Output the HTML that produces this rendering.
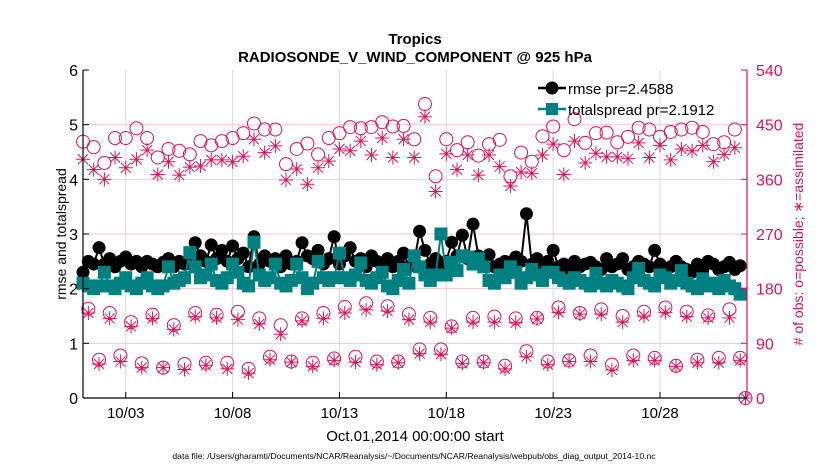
<!DOCTYPE html>
<html><head><meta charset="utf-8"><style>
body{margin:0;background:#fff;}
svg text{font-family:"Liberation Sans",Arial,sans-serif;}
</style></head><body>
<svg id="chart" width="830" height="470" xmlns="http://www.w3.org/2000/svg">
<g id="grid"></g>
<g id="series"></g>
<g id="axes"></g>
<text x="415" y="44" text-anchor="middle" font-size="15" font-weight="bold">Tropics</text>
<text x="415" y="62" text-anchor="middle" font-size="15" font-weight="bold">RADIOSONDE_V_WIND_COMPONENT @ 925 hPa</text>
<text x="415" y="441" text-anchor="middle" font-size="15">Oct.01,2014 00:00:00 start</text>
<text x="414" y="459" text-anchor="middle" font-size="8.6">data file: /Users/gharamti/Documents/NCAR/Reanalysis/~/Documents/NCAR/Reanalysis/webpub/obs_diag_output_2014-10.nc</text>
<text transform="translate(66,234) rotate(-90)" text-anchor="middle" font-size="14">rmse and totalspread</text>
<text transform="translate(803,234) rotate(-90)" text-anchor="middle" font-size="14" fill="#d6145a"># of obs: o=possible; ∗=assimilated</text>
<g>
<line x1="538" y1="88" x2="566" y2="88" stroke="#000" stroke-width="2.5"/>
<circle cx="552" cy="88" r="6.5" fill="#000"/>
<text x="568" y="94" font-size="15">rmse pr=2.4588</text>
<line x1="538" y1="109" x2="566" y2="109" stroke="#008080" stroke-width="2.5"/>
<rect x="546" y="103" width="12" height="12" fill="#008080"/>
<text x="568" y="115" font-size="15">totalspread pr=2.1912</text>
</g>
</svg>
<script>
const xTickLabels = ["10/03","10/08","10/13","10/18","10/23","10/28"];
const xTickDays = [2,7,12,17,22,27];
const leftTicks = [0,1,2,3,4,5,6];
const rightTicks = [0,90,180,270,360,450,540];
const rmse = [2.30,2.50,2.45,2.75, 2.45,2.55,2.40,2.50, 2.58,2.45,2.50,2.40, 2.50,2.45,2.40,2.48, 2.55,2.40,2.50,2.45, 2.45,2.84,2.60,2.50, 2.80,2.55,2.70,2.50, 2.78,2.55,2.65,2.40, 2.95,2.45,2.60,2.50, 2.55,2.40,2.60,2.45, 2.50,2.84,2.60,2.55, 2.70,2.45,2.55,2.95, 2.45,2.60,2.75,2.50, 2.55,2.40,2.60,2.50, 2.45,2.55,2.40,2.50, 2.65,2.40,2.50,3.05, 2.70,2.45,2.55,2.40, 2.50,2.85,2.60,2.98, 2.55,3.18,2.60,2.45, 2.62,2.40,2.45,2.50, 2.45,2.58,2.50,3.37, 2.45,2.55,2.40,2.50, 2.70,2.40,2.45,2.35, 2.50,2.40,2.45,2.48, 2.40,2.35,2.55,2.40, 2.45,2.55,2.35,2.40, 2.50,2.45,2.40,2.70, 2.45,2.35,2.40,2.50, 2.40,2.35,2.30,2.45, 2.35,2.50,2.45,2.35, 2.40,2.48,2.35,2.42];
const totalspread = [2.10,2.05,2.00,2.05, 2.30,2.05,2.00,2.10, 2.20,2.05,2.00,2.10, 2.20,2.05,2.00,2.05, 2.40,2.10,2.15,2.20, 2.66,2.40,2.20,2.25, 2.45,2.15,2.10,2.20, 2.45,2.30,2.10,2.05, 2.85,2.25,2.15,2.20, 2.45,2.10,2.05,2.15, 2.45,2.20,2.00,2.10, 2.50,2.20,2.15,2.20, 2.65,2.20,2.15,2.25, 2.47,2.15,2.10,2.20, 2.30,2.05,2.00,2.15, 2.35,2.10,2.60,2.40, 2.25,2.15,2.25,3.00, 2.25,2.48,2.33,2.60, 2.58,2.45,2.55,2.40, 2.15,2.10,2.25,2.20, 2.40,2.30,2.10,2.20, 2.35,2.25,2.15,2.30, 2.30,2.20,2.15,2.10, 2.20,2.15,2.10,2.05, 2.28,2.10,2.05,2.15, 2.10,2.05,2.00,2.20, 2.37,2.15,2.10,2.05, 2.25,2.20,2.10,2.15, 2.33,2.10,2.05,2.00, 2.18,2.05,2.10,2.00, 2.15,2.05,2.00,1.90];
const possible00z12z = [422,413,387,428,428,444,428,396,410,407,401,423,416,423,428,436,452,442,442,385,410,419,401,428,436,446,444,446,454,447,448,426,484,365,426,408,421,399,418,425,365,404,389,431,447,408,459,420,436,437,421,430,445,442,430,438,442,445,438,418,421,442,0];
const assim00z12z = [393,376,360,396,379,393,408,368,389,367,380,382,392,392,389,398,426,404,415,359,377,352,379,390,410,407,423,400,428,396,426,396,463,340,402,376,400,367,400,381,349,372,370,400,418,368,423,387,403,397,397,394,420,396,416,392,410,407,416,389,401,412,0];
const possible06z = [147,140,125,137,120,140,137,142,131,120,131,140,150,156,151,138,132,118,132,134,131,132,149,140,146,135,142,149,142,136,146];
const assim06z = [140,131,118,131,113,134,132,129,122,105,127,131,140,145,143,129,125,115,125,125,124,130,141,138,138,125,135,141,134,132,132];
const possible18z = [63,70,57,50,56,58,58,48,68,60,58,65,68,60,60,80,80,60,60,53,77,60,62,70,55,70,66,53,63,66,66];
const assim18z = [56,60,50,50,47,54,48,41,63,59,52,62,59,55,58,73,72,57,58,48,68,55,60,60,46,62,62,52,58,58,62];

const X0=83, X1=747, Y0=398, Y1=70, DMAX=31.07;
const PINK="#d6145a", TEAL="#008080";
const xs = d => X0 + d/DMAX*(X1-X0);
const yl = v => Y0 - v/6*(Y0-Y1);
const yr = c => Y0 - c/540*(Y0-Y1);
const NS="http://www.w3.org/2000/svg";
function mk(parent, tag, attrs){const e=document.createElementNS(NS,tag);for(const k in attrs)e.setAttribute(k,attrs[k]);parent.appendChild(e);return e;}
const grid=document.getElementById('grid'), ser=document.getElementById('series'), ax=document.getElementById('axes');

xTickDays.forEach((d,i)=>{
  const l=mk(grid,'line',{x1:xs(d),x2:xs(d),y1:Y1,y2:Y0,stroke:'#d9d9d9','stroke-width':1});
  
  
  mk(ax,'line',{x1:xs(d),x2:xs(d),y1:Y0,y2:Y0-6,stroke:'#000'});
  const t=mk(ax,'text',{x:xs(d),y:Y0+20,'text-anchor':'middle','font-size':15});
  t.textContent=xTickLabels[i];
  
  
});
rightTicks.forEach(c=>{
  if(c>0&&c<540){const l=mk(grid,'line',{x1:X0,x2:X1,y1:yr(c),y2:yr(c),stroke:'#f7c6d6','stroke-width':1});
  
  }
  mk(ax,'line',{x1:X1,x2:X1-6,y1:yr(c),y2:yr(c),stroke:PINK});
  const t=mk(ax,'text',{x:X1+9,y:yr(c)+6,'font-size':16,fill:PINK});
  t.textContent=c;
  
  
});
leftTicks.forEach(v=>{
  mk(ax,'line',{x1:X0,x2:X0+6,y1:yl(v),y2:yl(v),stroke:'#000'});
  const t=mk(ax,'text',{x:X0-5,y:yl(v)+6,'text-anchor':'end','font-size':16});
  t.textContent=v;
  
  
});
mk(ax,'line',{x1:X0,x2:X0,y1:Y1,y2:Y0,stroke:'#000','stroke-width':1.2});
mk(ax,'line',{x1:X0,x2:X1,y1:Y0,y2:Y0,stroke:'#000','stroke-width':1.2});
mk(ax,'line',{x1:X1,x2:X1,y1:Y1,y2:Y0,stroke:PINK,'stroke-width':1.2});

function circ(d,c,name){const e=mk(ser,'circle',{cx:xs(d),cy:yr(c),r:6.5,fill:'none',stroke:PINK,'stroke-width':1});
  
  }
function star(d,c,name){const x=xs(d),y=yr(c),s=7,q=5;
  const g=mk(ser,'path',{d:`M${x-s},${y}H${x+s}M${x},${y-s}V${y+s}M${x-q},${y-q}L${x+q},${y+q}M${x-q},${y+q}L${x+q},${y-q}`,stroke:PINK,'stroke-width':1,fill:'none'});
  
  }
possible00z12z.forEach((c,i)=>circ(i*0.5,c,'possible-obs-point'));
assim00z12z.forEach((c,i)=>star(i*0.5,c,'assimilated-obs-point'));
possible06z.forEach((c,i)=>circ(i+0.25,c,'possible-obs-point'));
assim06z.forEach((c,i)=>star(i+0.25,c,'assimilated-obs-point'));
possible18z.forEach((c,i)=>circ(i+0.75,c,'possible-obs-point'));
assim18z.forEach((c,i)=>star(i+0.75,c,'assimilated-obs-point'));

const rl=mk(ser,'polyline',{points:rmse.map((v,i)=>xs(i*0.25)+','+yl(v)).join(' '),fill:'none',stroke:'#000','stroke-width':2});


rmse.forEach((v,i)=>{const e=mk(ser,'circle',{cx:xs(i*0.25),cy:yl(v),r:6.5,fill:'#000'});
  
  });
const tl=mk(ser,'polyline',{points:totalspread.map((v,i)=>xs(i*0.25)+','+yl(v)).join(' '),fill:'none',stroke:TEAL,'stroke-width':2});


totalspread.forEach((v,i)=>{const e=mk(ser,'rect',{x:xs(i*0.25)-6.5,y:yl(v)-6.5,width:13,height:13,fill:TEAL});
  
  });
</script>
</body></html>
